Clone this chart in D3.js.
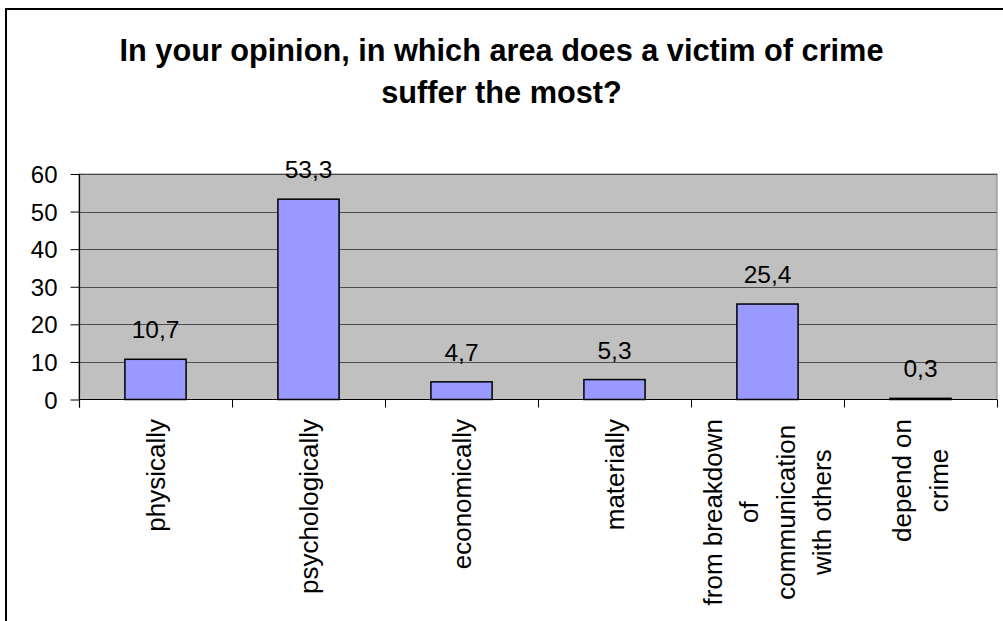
<!DOCTYPE html>
<html><head><meta charset="utf-8">
<script src="https://cdn.jsdelivr.net/npm/d3@7/dist/d3.min.js"></script>
<style>body{margin:0;background:#fff}svg{display:block}text{font-family:"Liberation Sans",Arial,sans-serif;fill:#000}</style>
</head><body>
<svg id="c" width="1003" height="621"></svg>
<script>
const categories = [["physically"],["psychologically"],["economically"],["materially"],["from breakdown","of","communication","with others"],["depend on","crime"]];
const values = [10.7, 53.3, 4.7, 5.3, 25.4, 0.3];
const valueLabels = ["10,7","53,3","4,7","5,3","25,4","0,3"];
const yTicks = [0,10,20,30,40,50,60];
const titleLines = ["In your opinion, in which area does a victim of crime","suffer the most?"];

const svg = d3.select("#c");
svg.append("rect").attr("x",6).attr("y",9).attr("width",1010).attr("height",630).attr("fill","#fff").attr("stroke","#000").attr("stroke-width",2);

const L=79, R=997, T=174, B=399.5;
const x = d3.scaleBand().domain(d3.range(categories.length)).range([L,R]).paddingInner(0.6).paddingOuter(0.3);
const xb = d3.scaleBand().domain(d3.range(categories.length)).range([L,R]);
const y = d3.scaleLinear().domain([0,60]).range([B,T]);

svg.append("rect").attr("x",L).attr("y",T).attr("width",R-L).attr("height",B-T).attr("fill","#C0C0C0").attr("stroke","#808080").attr("stroke-width",1);

svg.append("g").selectAll("line").data(yTicks.slice(1)).join("line")
  .attr("x1",L).attr("x2",R).attr("y1",d=>Math.round(y(d))+0.5).attr("y2",d=>Math.round(y(d))+0.5)
  .attr("stroke","#4d4d4d").attr("stroke-width",1);

// bars
svg.append("g").selectAll("rect").data(values).join("rect")
  .attr("x",(d,i)=>x(i)).attr("width",x.bandwidth())
  .attr("y",d=>y(d)).attr("height",d=>B-y(d))
  .attr("fill","#9999FF").attr("stroke","#000").attr("stroke-width",1.5);

// value labels
svg.append("g").selectAll("text").data(values).join("text")
  .attr("x",(d,i)=>x(i)+x.bandwidth()/2).attr("y",d=>y(d)-21)
  .attr("text-anchor","middle").attr("font-size",24.5).text((d,i)=>valueLabels[i]);

// y axis
const yAxis = d3.axisLeft(y).tickValues(yTicks).tickSize(9).tickPadding(13).tickFormat(d3.format("d"));
const gy = svg.append("g").attr("transform",`translate(${L+0.5},0)`).call(yAxis);
gy.select(".domain").remove();
gy.selectAll(".tick line").attr("stroke","#000");
gy.selectAll(".tick text").attr("font-size",24).attr("font-family","Liberation Sans, Arial, sans-serif").attr("dy","0.36em");
svg.append("line").attr("x1",L+0.5).attr("x2",L+0.5).attr("y1",T).attr("y2",B+8).attr("stroke","#000").attr("stroke-width",1.2);

// x axis
svg.append("line").attr("x1",L).attr("x2",R).attr("y1",B).attr("y2",B).attr("stroke","#000").attr("stroke-width",1.2);
const bounds = d3.range(categories.length+1).map(i=> i<categories.length ? xb(i) : R);
svg.append("g").selectAll("line").data(bounds).join("line")
  .attr("x1",d=>Math.round(d)+0.5).attr("x2",d=>Math.round(d)+0.5).attr("y1",B).attr("y2",B+8)
  .attr("stroke","#000").attr("stroke-width",1);

// category labels
const lineH = 36.5, fs = 26, topY = 419;
categories.forEach((lines,i)=>{
  const cx = xb(i)+xb.bandwidth()/2;
  const g = svg.append("g");
  const texts = lines.map((t,j)=> g.append("text").attr("font-size",fs).attr("text-anchor","middle").text(t));
  const maxW = d3.max(texts, t=>t.node().getComputedTextLength());
  const cy = topY + maxW/2;
  const n = lines.length;
  texts.forEach((t,j)=>{
    const bx = cx + (j-(n-1)/2)*lineH + fs*0.35;
    t.attr("transform",`translate(${bx},${cy}) rotate(-90)`);
  });
});

// title
svg.append("g").selectAll("text").data(titleLines).join("text")
  .attr("x",501.5).attr("y",(d,i)=>60.7+i*42).attr("text-anchor","middle")
  .attr("font-size",30.7).attr("font-weight","bold").text(d=>d);
</script>
</body></html>
